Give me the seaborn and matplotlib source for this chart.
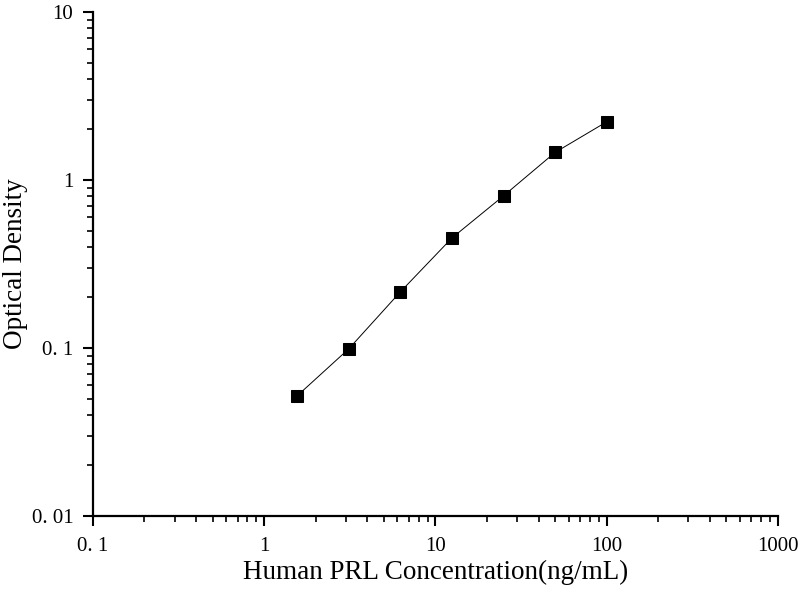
import matplotlib
matplotlib.use("Agg")
import matplotlib.pyplot as plt
import matplotlib.ticker as mticker
import seaborn as sns
import pandas as pd

# Data
concentration = [1.5625, 3.125, 6.25, 12.5, 25, 50, 100]
optical_density = [0.052, 0.099, 0.216, 0.452, 0.805, 1.46, 2.22]
x_ticks = [0.1, 1, 10, 100, 1000]
x_tick_labels = ["0. 1", "1", "10", "100", "1000"]
y_ticks = [0.01, 0.1, 1, 10]
y_tick_labels = ["0. 01", "0. 1", "1", "10"]
x_label = "Human PRL Concentration(ng/mL)"
y_label = "Optical Density"

df = pd.DataFrame({"conc": concentration, "od": optical_density})

sns.set_theme(style="ticks")
plt.rcParams["font.family"] = ["Liberation Serif", "DejaVu Serif"]

fig = plt.figure(figsize=(8, 6), dpi=100)
ax = fig.add_axes([0.116, 0.14, 0.8565, 0.84])

sns.lineplot(data=df, x="conc", y="od", ax=ax, color="black", linewidth=0.7,
             marker="s", markersize=8.5, markeredgecolor="black",
             markerfacecolor="black")

ax.set_xscale("log")
ax.set_yscale("log")
ax.set_xlim(0.1, 1000)
ax.set_ylim(0.01, 10)

ax.xaxis.set_major_locator(mticker.FixedLocator(x_ticks))
ax.xaxis.set_major_formatter(mticker.FixedFormatter(x_tick_labels))
ax.yaxis.set_major_locator(mticker.FixedLocator(y_ticks))
ax.yaxis.set_major_formatter(mticker.FixedFormatter(y_tick_labels))
ax.xaxis.set_minor_locator(mticker.LogLocator(base=10, subs=range(2, 10), numticks=20))
ax.yaxis.set_minor_locator(mticker.LogLocator(base=10, subs=range(2, 10), numticks=20))
ax.xaxis.set_minor_formatter(mticker.NullFormatter())
ax.yaxis.set_minor_formatter(mticker.NullFormatter())

for side in ["top", "right"]:
    ax.spines[side].set_visible(False)
for side in ["left", "bottom"]:
    ax.spines[side].set_linewidth(1.6)
    ax.spines[side].set_color("black")

ax.tick_params(which="major", direction="out", length=7, width=1.5, colors="black",
               labelsize=15)
ax.tick_params(which="minor", direction="out", length=4, width=1.2, colors="black")
ax.tick_params(axis="x", which="major", pad=8)
ax.tick_params(axis="y", which="major", pad=7)

ax.set_xlabel(x_label, fontsize=19.5, color="black", labelpad=3)
ax.set_ylabel(y_label, fontsize=19.5, color="black", labelpad=3)

fig.savefig("out.png", dpi=100)
